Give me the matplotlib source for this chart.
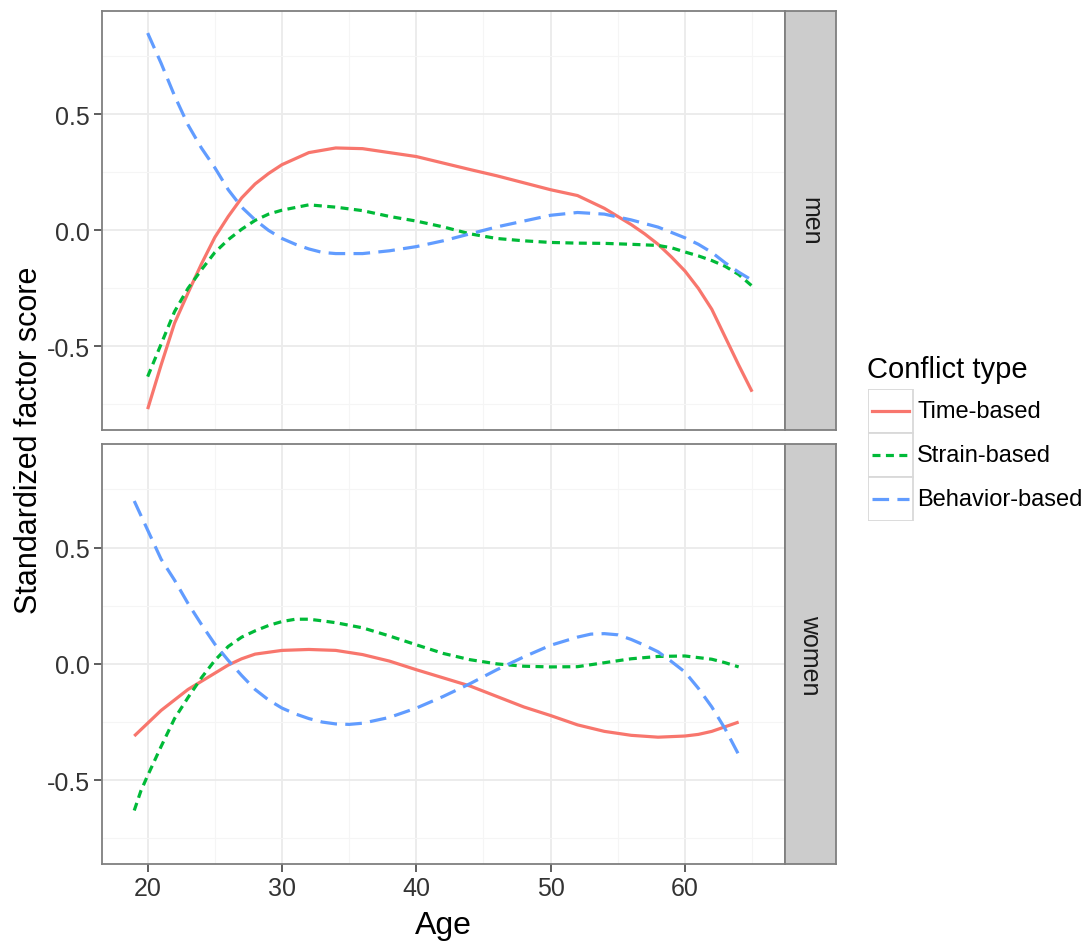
import matplotlib
matplotlib.use("Agg")
import matplotlib.pyplot as plt
from matplotlib.patches import Rectangle
from matplotlib.lines import Line2D

plt.rcParams['font.family'] = ['Liberation Sans', 'DejaVu Sans']

# ---------------- data ----------------
conflict_types = ["Time-based", "Strain-based", "Behavior-based"]
panels = ["men", "women"]

men_time_age = [20, 21, 22, 23, 24, 25, 26, 27, 28, 29, 30, 32, 34, 36, 38, 40, 42, 44, 46, 48, 50, 52, 54, 55, 56, 57, 58, 59, 60, 61, 62, 63, 64, 65]
men_time_val = [-0.77, -0.58, -0.40, -0.27, -0.145, -0.03, 0.06, 0.14, 0.20, 0.245, 0.283, 0.335, 0.355, 0.352, 0.335, 0.318, 0.29, 0.262, 0.235, 0.205, 0.175, 0.15, 0.095, 0.06, 0.025, -0.015, -0.06, -0.115, -0.175, -0.25, -0.34, -0.46, -0.58, -0.695]

men_strain_age = [20, 21, 22, 23, 24, 25, 26, 27, 28, 29, 30, 32, 34, 36, 38, 40, 42, 44, 46, 48, 50, 52, 54, 56, 58, 59, 60, 61, 62, 63, 64, 65]
men_strain_val = [-0.63, -0.49, -0.35, -0.25, -0.17, -0.095, -0.04, 0.005, 0.043, 0.07, 0.087, 0.11, 0.10, 0.085, 0.06, 0.04, 0.015, -0.015, -0.035, -0.045, -0.052, -0.055, -0.056, -0.06, -0.065, -0.075, -0.093, -0.11, -0.13, -0.155, -0.19, -0.24]

men_behav_age = [20, 21, 22, 23, 24, 25, 26, 27, 28, 29, 30, 31, 32, 33, 34, 36, 38, 40, 42, 44, 46, 48, 50, 52, 54, 56, 58, 60, 61, 62, 63, 64, 65]
men_behav_val = [0.85, 0.72, 0.58, 0.455, 0.355, 0.27, 0.175, 0.10, 0.045, 0.0, -0.035, -0.06, -0.08, -0.095, -0.10, -0.10, -0.088, -0.07, -0.045, -0.015, 0.015, 0.04, 0.065, 0.077, 0.07, 0.045, 0.014, -0.032, -0.06, -0.095, -0.14, -0.18, -0.215]

women_time_age = [19, 20, 21, 22, 23, 24, 25, 26, 27, 28, 30, 32, 34, 36, 38, 40, 42, 44, 46, 48, 50, 52, 54, 56, 58, 60, 61, 62, 63, 64]
women_time_val = [-0.31, -0.255, -0.20, -0.155, -0.11, -0.075, -0.04, -0.005, 0.022, 0.042, 0.058, 0.062, 0.058, 0.04, 0.012, -0.025, -0.06, -0.095, -0.14, -0.185, -0.222, -0.262, -0.29, -0.307, -0.315, -0.31, -0.303, -0.29, -0.27, -0.25]

women_strain_age = [19, 19.5, 20, 21, 22, 23, 24, 25, 26, 27, 28, 29, 30, 31, 32, 33, 34, 36, 38, 40, 42, 44, 46, 48, 50, 52, 54, 56, 58, 60, 62, 63, 64]
women_strain_val = [-0.63, -0.545, -0.48, -0.355, -0.235, -0.145, -0.06, 0.015, 0.075, 0.115, 0.142, 0.165, 0.182, 0.192, 0.192, 0.185, 0.177, 0.155, 0.12, 0.082, 0.045, 0.018, 0.0, -0.01, -0.013, -0.012, 0.005, 0.022, 0.032, 0.034, 0.02, 0.005, -0.013]

women_behav_age = [19, 20, 21, 22, 23, 24, 25, 26, 27, 28, 29, 30, 31, 32, 33, 34, 35, 36, 38, 40, 42, 44, 46, 48, 50, 52, 53, 54, 55, 56, 57, 58, 59, 60, 61, 62, 63, 64]
women_behav_val = [0.70, 0.575, 0.45, 0.36, 0.26, 0.17, 0.085, 0.015, -0.05, -0.11, -0.155, -0.19, -0.215, -0.235, -0.25, -0.258, -0.26, -0.255, -0.23, -0.19, -0.14, -0.085, -0.025, 0.03, 0.08, 0.115, 0.128, 0.13, 0.125, 0.105, 0.08, 0.052, 0.01, -0.035, -0.105, -0.185, -0.28, -0.39]

x_ticks = [20, 30, 40, 50, 60]
y_ticks = [-0.5, 0.0, 0.5]
y_ticklabels = ["-0.5", "0.0", "0.5"]

# ---------------- style ----------------
colors = ["#F8766D", "#00BA38", "#619CFF"]
dashes = [None, (2.5, 1.7), (5.2, 2.6)]
LW = 2.3

W, H = 1090, 945
fig = plt.figure(figsize=(W / 100, H / 100), dpi=100)

def fx(px):
    return px / W

def fy(py):
    return 1 - py / H

panel_boxes = [(102, 12, 785, 431), (102, 445, 785, 865)]
series = {
    "men": [(men_time_age, men_time_val), (men_strain_age, men_strain_val), (men_behav_age, men_behav_val)],
    "women": [(women_time_age, women_time_val), (women_strain_age, women_strain_val), (women_behav_age, women_behav_val)],
}

border_col = "#7F7F7F"
for i, (name, (l, t, r, b)) in enumerate(zip(panels, panel_boxes)):
    ax = fig.add_axes([fx(l), fy(b), fx(r) - fx(l), fy(t) - fy(b)])
    ax.set_xlim(16.6, 67.45)
    ax.set_ylim(-0.86, 0.945)
    ax.set_xticks(x_ticks)
    ax.set_xticks([25, 35, 45, 55, 65], minor=True)
    ax.set_yticks(y_ticks)
    ax.set_yticklabels(y_ticklabels)
    ax.set_yticks([-0.75, -0.25, 0.25, 0.75], minor=True)
    ax.grid(which="major", color="#EBEBEB", lw=1.3, zorder=0)
    ax.grid(which="minor", color="#F5F5F5", lw=0.8, zorder=0)
    ax.set_axisbelow(True)
    ax.tick_params(which="major", length=5.5, width=1.1, color="#333333",
                   labelsize=18, labelcolor="#333333", pad=3.5)
    ax.tick_params(which="minor", length=0)
    for s in ax.spines.values():
        s.set_color(border_col)
        s.set_linewidth(1.3)
    if i == 0:
        ax.tick_params(axis="x", which="major", length=0, labelbottom=False)
    for k, (xs, ys) in enumerate(series[name]):
        ln, = ax.plot(xs, ys, color=colors[k], lw=LW, solid_capstyle="butt",
                      dash_capstyle="butt", solid_joinstyle="round", zorder=3)
        if dashes[k] is not None:
            ln.set_dashes(dashes[k])

    # facet strip
    sax = fig.add_axes([fx(r), fy(b), fx(836) - fx(r), fy(t) - fy(b)])
    sax.set_facecolor("#CCCCCC")
    sax.set_xticks([])
    sax.set_yticks([])
    for s in sax.spines.values():
        s.set_color(border_col)
        s.set_linewidth(1.3)
    sax.text(0.5, 0.5, name, rotation=-90, ha="center", va="center",
             fontsize=18, color="#1A1A1A", transform=sax.transAxes)

fig.text(fx(443), fy(926), "Age", ha="center", va="center", fontsize=23, color="black")
fig.text(fx(29), fy(440), "Standardized factor score", ha="center", va="center",
         rotation=90, fontsize=22, color="black")

# ---------------- legend ----------------
lax = fig.add_axes([fx(868), fy(522), fx(1088) - fx(868), fy(390) - fy(522)])
lax.set_xlim(868, 1088)
lax.set_ylim(522, 390)
lax.axis("off")
key_h = 44
for k, lab in enumerate(conflict_types):
    y0 = 390 + k * key_h
    lax.add_patch(Rectangle((868, y0), 45, key_h, facecolor="white",
                            edgecolor="#D9D9D9", lw=1.3))
    ln = Line2D([872, 909], [y0 + key_h / 2] * 2, color=colors[k], lw=LW)
    if dashes[k] is not None:
        ln.set_dashes(dashes[k])
    lax.add_line(ln)
    lax.text(917, y0 + key_h / 2, lab, ha="left", va="center", fontsize=17, color="black")
fig.text(fx(867), fy(370), "Conflict type", ha="left", va="center", fontsize=21, color="black")

fig.savefig("out.png", dpi=100, facecolor="white")
